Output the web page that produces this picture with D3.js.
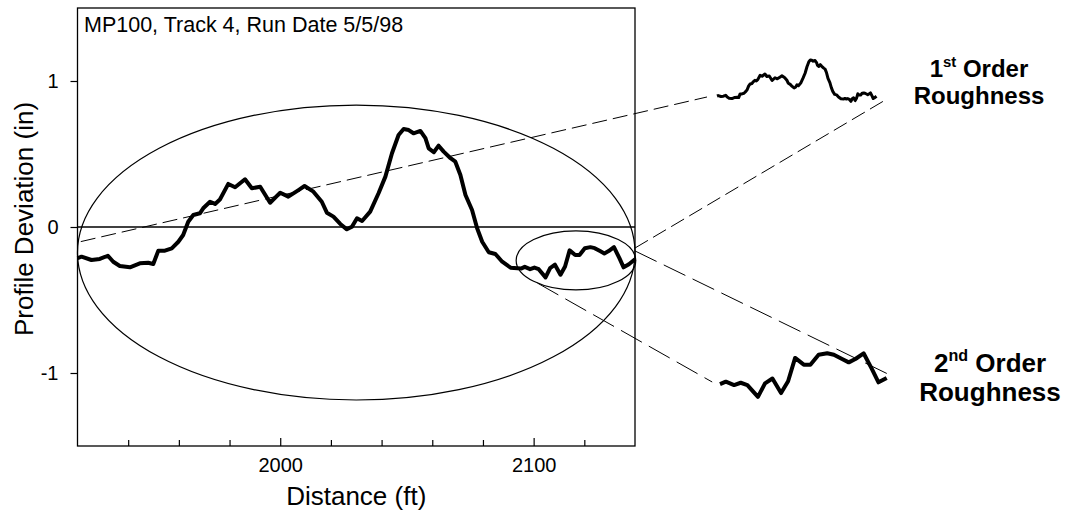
<!DOCTYPE html>
<html>
<head>
<meta charset="utf-8">
<script src="https://cdn.jsdelivr.net/npm/d3@7"></script>
<style>
    body { margin: 0; background: #fff; }
    svg { display: block; font-family: "Liberation Sans", Arial, Helvetica, sans-serif; }
</style>
</head>
<body>
<svg id="chart" width="1075" height="516"></svg>
<script>
// Profile data
const distance = [
    1920.0, 1921.6, 1925.5, 1928.8, 1932.0, 1934.1, 1936.7, 1940.7, 1944.6, 1947.9,
    1949.9, 1951.9, 1954.5, 1957.2, 1959.8, 1961.7, 1963.7, 1965.7, 1968.3, 1969.6,
    1972.3, 1974.3, 1976.2, 1979.5, 1982.2, 1986.1, 1988.8, 1992.1, 1996.0, 2000.0,
    2003.2, 2007.2, 2009.6, 2013.1, 2016.4, 2018.4, 2021.0, 2023.7, 2026.3, 2028.3,
    2030.3, 2032.3, 2035.5, 2038.8, 2041.5, 2044.1, 2046.7, 2048.7, 2050.7, 2052.6,
    2055.3, 2057.3, 2058.6, 2060.6, 2062.5, 2064.5, 2067.2, 2069.1, 2071.1, 2073.1,
    2075.7, 2077.7, 2079.7, 2082.3, 2084.9, 2087.6, 2090.9, 2095.0, 2096.5, 2098.6,
    2100.3, 2102.0, 2104.7, 2106.5, 2108.4, 2110.6, 2112.4, 2114.2, 2116.4, 2118.1,
    2120.2, 2122.4, 2124.1, 2126.2, 2127.9, 2129.6, 2131.7, 2133.8, 2135.5, 2137.6,
    2140.0
];
const deviation = [
    -0.214, -0.203, -0.226, -0.219, -0.197, -0.238, -0.267, -0.276, -0.249, -0.245,
    -0.253, -0.162, -0.162, -0.146, -0.101, -0.055, 0.036, 0.082, 0.094, 0.128,
    0.173, 0.158, 0.188, 0.295, 0.272, 0.327, 0.265, 0.276, 0.166, 0.235,
    0.208, 0.253, 0.281, 0.242, 0.173, 0.098, 0.071, 0.021, -0.016, 0.002,
    0.060, 0.041, 0.105, 0.231, 0.345, 0.505, 0.630, 0.671, 0.664, 0.642,
    0.658, 0.608, 0.539, 0.512, 0.557, 0.516, 0.471, 0.447, 0.356, 0.219,
    0.116, -0.009, -0.101, -0.173, -0.185, -0.238, -0.279, -0.285, -0.273, -0.289,
    -0.278, -0.289, -0.345, -0.281, -0.258, -0.327, -0.271, -0.160, -0.192, -0.192,
    -0.145, -0.138, -0.145, -0.165, -0.181, -0.165, -0.138, -0.212, -0.276, -0.255,
    -0.221
];

const xTicks = [1940, 1960, 1980, 2000, 2020, 2040, 2060, 2080, 2100, 2120];
const xLabels = [2000, 2100];
const yTicks = [-1, 0, 1];

// ellipses: [centre distance, centre deviation, radius ft, radius in]
const bigEllipse = [2030, -0.175, 110, 1.01];
const smallEllipse = [2116.7, -0.229, 23.6, 0.202];

// 2nd order window
const zoomRange = [2095, 2137.6];

// dashed leaders: start on main axes, end on an inset's axes
const leaders = [
    { from: [1921.3, -0.100], to: [1906.2, -0.238], inset: 1 },
    { from: [2140.0, -0.144], to: [2152.2, -0.312], inset: 1 },
    { from: [2101.5, -0.384], to: [2093.0, -0.2745], inset: 2 },
    { from: [2140.0, -0.164], to: [2138.4, -0.241], inset: 2 }
];

const profile = distance.map((d, i) => ({ d: d, v: deviation[i] }));

const svg = d3.select("#chart");

// Main scales
const x = d3.scaleLinear().domain([1920, 2140]).range([77.5, 635]);
const y = d3.scaleLinear().domain([-1.5, 1.5]).range([446, 8]);

// Inset scales
const x1 = d3.scaleLinear().domain([1920, 2140]).range([717, 876.5]);
const y1 = d3.scaleLinear().domain([0, 1]).range([87.3, 46.6]);
const x2 = d3.scaleLinear().domain(zoomRange).range([720, 886.7]);
const y2 = d3.scaleLinear().domain([0, -1]).range([324.3, 534.5]);

// Zero line
svg.append("line")
    .attr("x1", x(1920)).attr("x2", x(2140))
    .attr("y1", y(0)).attr("y2", y(0))
    .attr("stroke", "#000")
    .attr("stroke-width", 1.6);

// Ellipses
[bigEllipse, smallEllipse].forEach(e => {
    svg.append("ellipse")
        .attr("cx", x(e[0]))
        .attr("cy", y(e[1]))
        .attr("rx", x(e[0] + e[2]) - x(e[0]))
        .attr("ry", y(e[1] - e[3]) - y(e[1]))
        .attr("fill", "none")
        .attr("stroke", "#000")
        .attr("stroke-width", 1.2);
});

// Dashed leaders
leaders.forEach(l => {
    const xs = l.inset === 1 ? x1 : x2;
    const ys = l.inset === 1 ? y1 : y2;
    svg.append("line")
        .attr("x1", x(l.from[0])).attr("y1", y(l.from[1]))
        .attr("x2", xs(l.to[0])).attr("y2", ys(l.to[1]))
        .attr("stroke", "#000")
        .attr("stroke-width", 1)
        .attr("stroke-dasharray", l.inset === 1 ? "15,6" : "24,8");
});

// Main profile
svg.append("path")
    .datum(profile)
    .attr("fill", "none")
    .attr("stroke", "#000")
    .attr("stroke-width", 4)
    .attr("stroke-linejoin", "round")
    .attr("d", d3.line().x(p => x(p.d)).y(p => y(p.v)));

// 1st order inset (whole profile, shrunk)
svg.append("path")
    .datum(profile)
    .attr("fill", "none")
    .attr("stroke", "#000")
    .attr("stroke-width", 3)
    .attr("stroke-linejoin", "round")
    .attr("d", d3.line().x(p => x1(p.d)).y(p => y1(p.v)));

// 2nd order inset (the small ellipse, enlarged)
svg.append("path")
    .datum(profile.filter(p => p.d >= zoomRange[0] && p.d <= zoomRange[1]))
    .attr("fill", "none")
    .attr("stroke", "#000")
    .attr("stroke-width", 4)
    .attr("stroke-linejoin", "round")
    .attr("d", d3.line().x(p => x2(p.d)).y(p => y2(p.v)));

// Axes
const yAxis = svg.append("g")
    .attr("transform", `translate(${x(1920)},0)`)
    .call(d3.axisLeft(y).tickValues(yTicks).tickSize(7).tickPadding(12)
        .tickFormat(d => String(d)));

const xAxis = svg.append("g")
    .attr("transform", `translate(0,${y(-1.5)})`)
    .call(d3.axisBottom(x).tickValues(xTicks).tickSize(-6).tickPadding(11.5)
        .tickFormat(d => xLabels.includes(d) ? String(d) : ""));

xAxis.selectAll(".tick line")
    .filter(d => xLabels.includes(d))
    .attr("y2", -8);

[xAxis, yAxis].forEach(g => {
    g.select(".domain").remove();
    g.selectAll("line").attr("stroke", "#000").attr("stroke-width", 1.2);
    g.selectAll("text")
        .attr("fill", "#000")
        .style("font-family", "'Liberation Sans', Arial, sans-serif")
        .style("font-size", "20px");
});

// Frame
svg.append("rect")
    .attr("x", x(1920)).attr("y", y(1.5))
    .attr("width", x(2140) - x(1920))
    .attr("height", y(-1.5) - y(1.5))
    .attr("fill", "none")
    .attr("stroke", "#000")
    .attr("stroke-width", 1.3);

// Labels
svg.append("text")
    .attr("x", 84).attr("y", 32)
    .style("font-size", "21.5px")
    .text("MP100, Track 4, Run Date 5/5/98");

svg.append("text")
    .attr("x", (x(1920) + x(2140)) / 2).attr("y", 505)
    .attr("text-anchor", "middle")
    .style("font-size", "26px")
    .text("Distance (ft)");

svg.append("text")
    .attr("transform", "translate(33,219) rotate(-90)")
    .attr("text-anchor", "middle")
    .style("font-size", "26px")
    .text("Profile Deviation (in)");

// Inset captions
function caption(cx, y0, size, num, sup) {
    const t = svg.append("text")
        .attr("x", cx).attr("y", y0)
        .attr("text-anchor", "middle")
        .style("font-size", size + "px")
        .style("font-weight", "bold");
    t.append("tspan").text(num);
    t.append("tspan").attr("dy", -size * 0.42).style("font-size", (size * 0.62) + "px").text(sup);
    t.append("tspan").attr("dy", size * 0.42).text(" Order");
    svg.append("text")
        .attr("x", cx).attr("y", y0 + size * 1.12)
        .attr("text-anchor", "middle")
        .style("font-size", size + "px")
        .style("font-weight", "bold")
        .text("Roughness");
}
caption(979, 77, 24, "1", "st");
caption(990, 372, 26, "2", "nd");
</script>
</body>
</html>
